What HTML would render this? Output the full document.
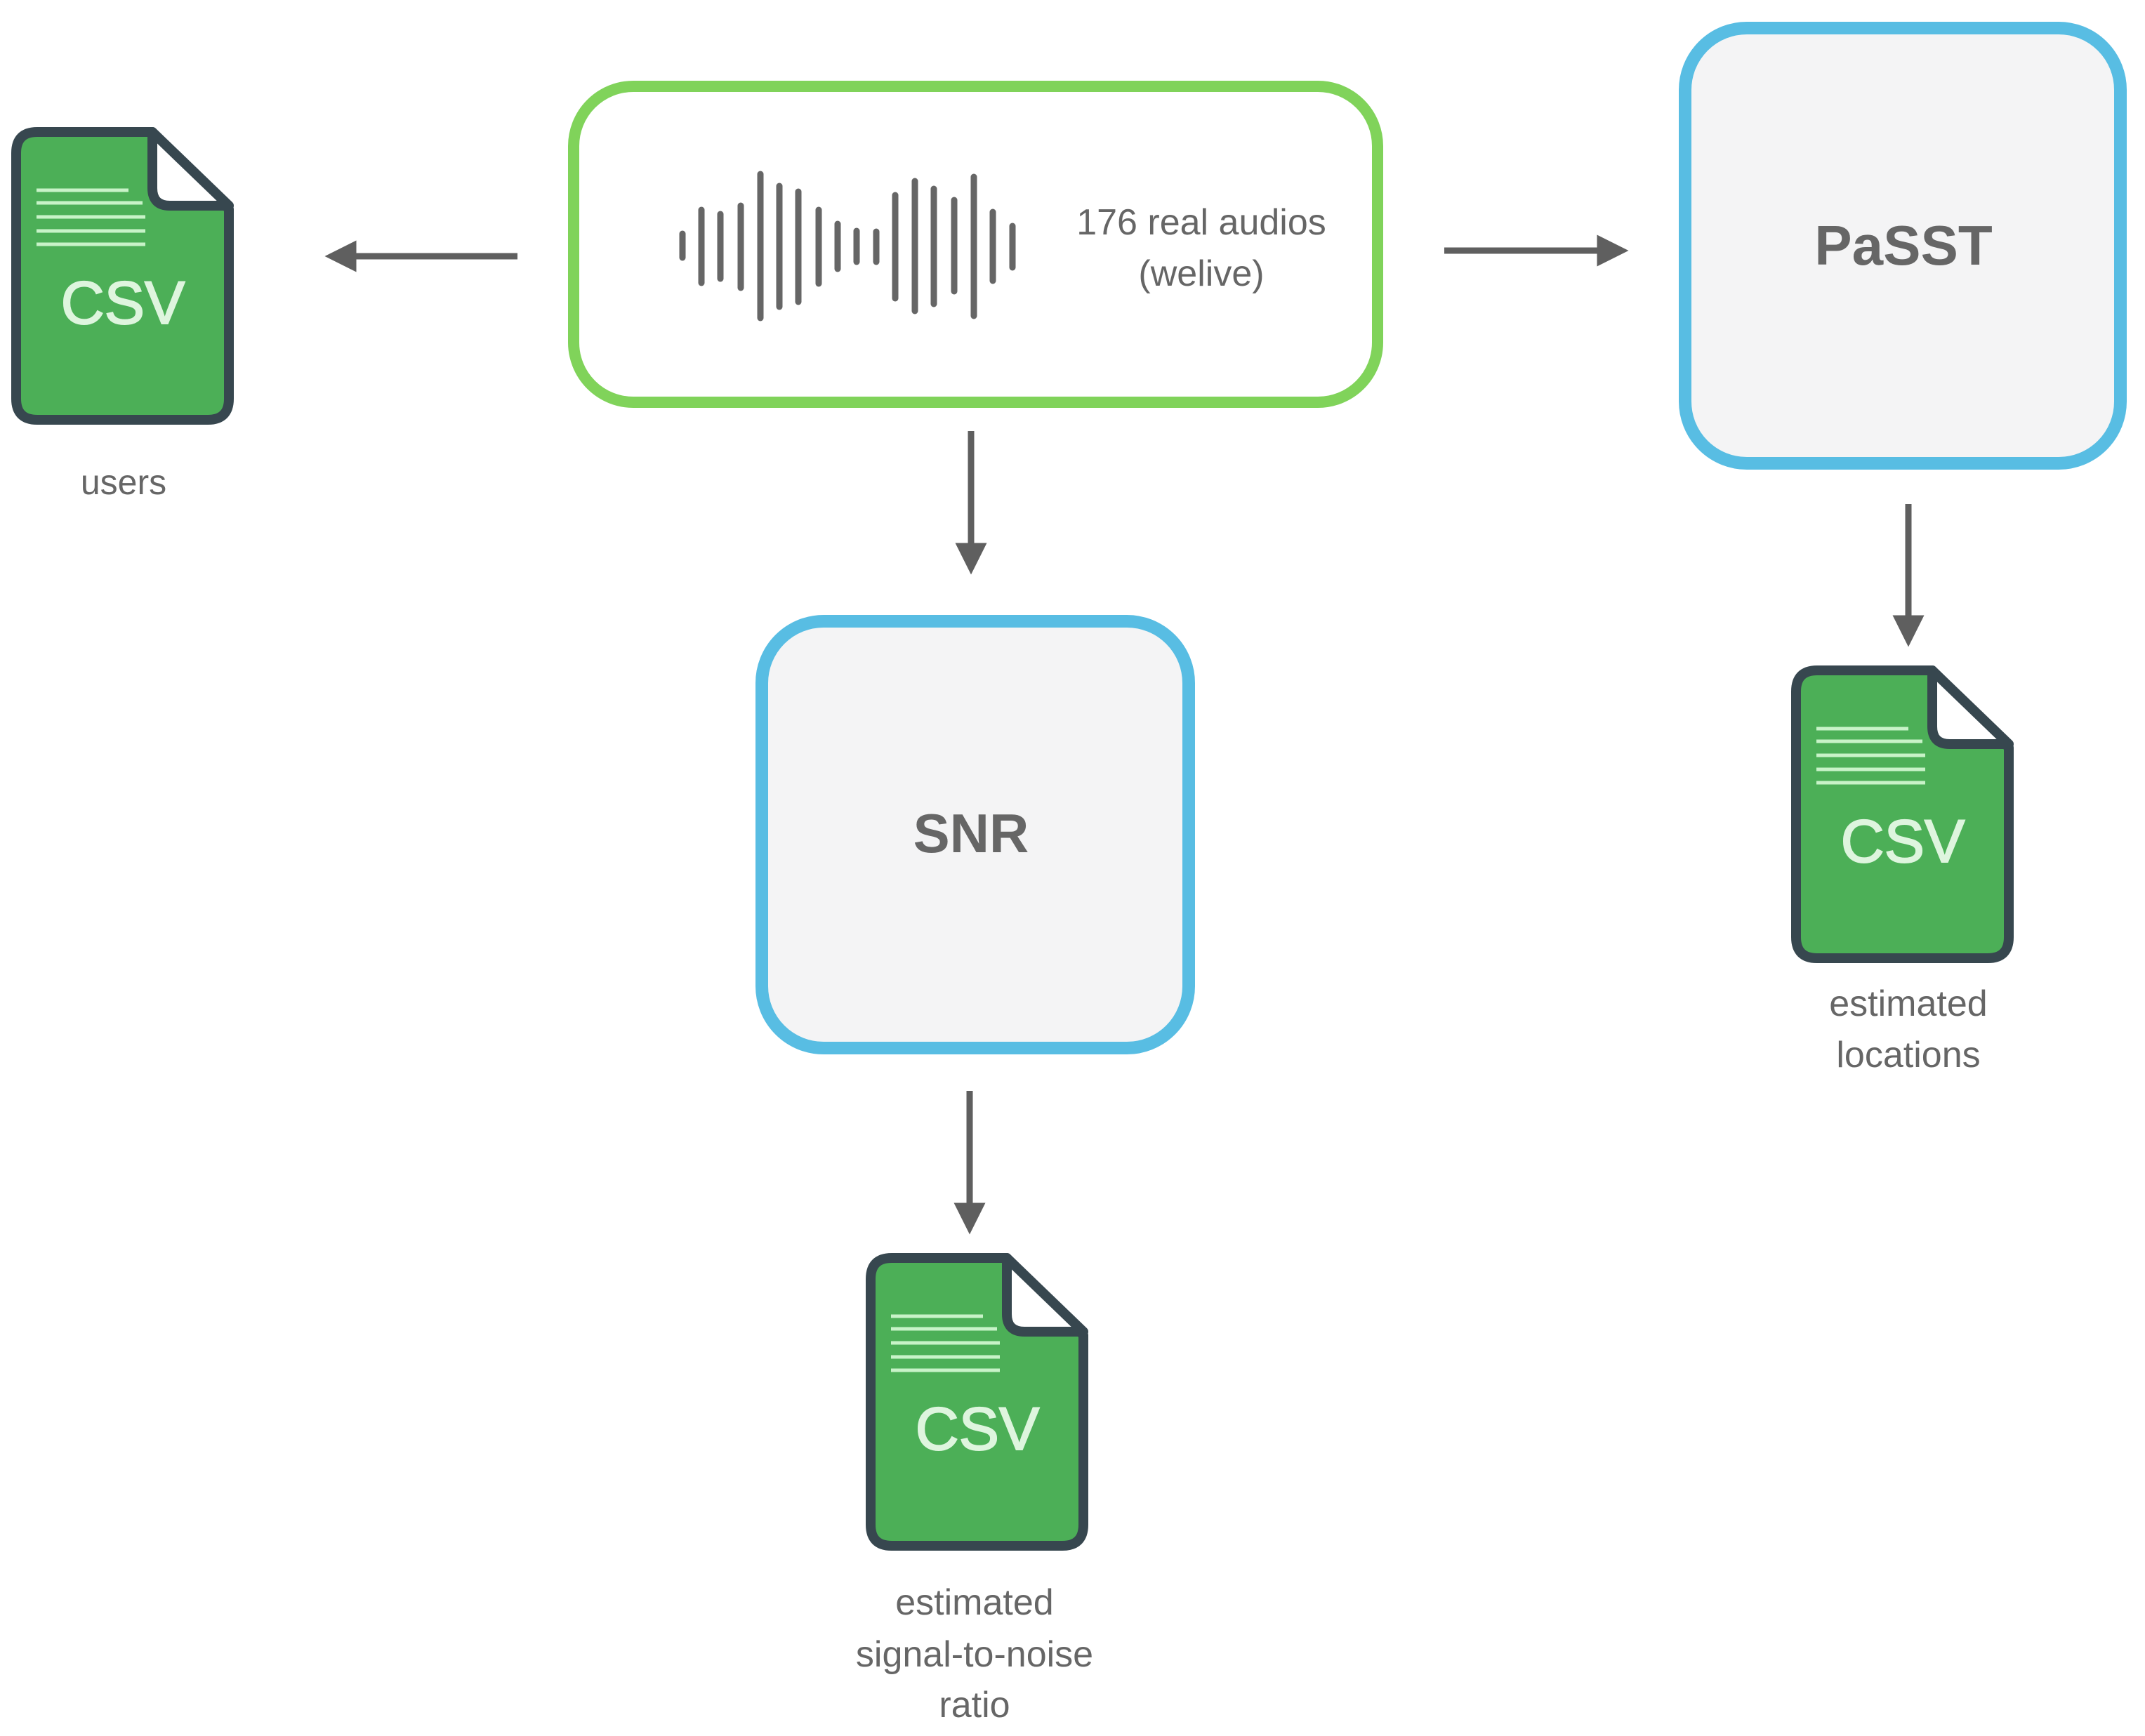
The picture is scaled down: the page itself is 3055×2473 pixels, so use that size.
<!DOCTYPE html>
<html><head><meta charset="utf-8"><style>
html,body{margin:0;padding:0;background:#fff;}
svg{display:block;}
text{font-family:"Liberation Sans",sans-serif;}
</style></head><body>
<svg width="3055" height="2473" viewBox="0 0 3055 2473" xmlns="http://www.w3.org/2000/svg">
<defs>
<marker id="ah" viewBox="0 0 10 10" refX="5" refY="5" markerWidth="5" markerHeight="5" orient="auto" markerUnits="strokeWidth">
<path d="M0,0 L10,5 L0,10 Z" fill="#5f5f5f"/>
</marker>
</defs>

<rect x="817" y="123" width="1145" height="450" rx="85" fill="#fff" stroke="#80d35a" stroke-width="16"/>
<g stroke="#666" stroke-width="9" stroke-linecap="round">
<line x1="972" y1="333" x2="972" y2="367"/>
<line x1="999" y1="299" x2="999" y2="403"/>
<line x1="1026" y1="305" x2="1026" y2="397"/>
<line x1="1055" y1="293" x2="1055" y2="410"/>
<line x1="1083" y1="248" x2="1083" y2="453"/>
<line x1="1110" y1="265" x2="1110" y2="437"/>
<line x1="1137" y1="273" x2="1137" y2="430"/>
<line x1="1166" y1="299" x2="1166" y2="404"/>
<line x1="1193" y1="319" x2="1193" y2="383"/>
<line x1="1220" y1="329" x2="1220" y2="373"/>
<line x1="1248" y1="330" x2="1248" y2="373"/>
<line x1="1275" y1="278" x2="1275" y2="425"/>
<line x1="1303" y1="258" x2="1303" y2="443"/>
<line x1="1330" y1="269" x2="1330" y2="433"/>
<line x1="1359" y1="285" x2="1359" y2="415"/>
<line x1="1387" y1="252" x2="1387" y2="450"/>
<line x1="1414" y1="302" x2="1414" y2="400"/>
<line x1="1442" y1="322" x2="1442" y2="381"/>
</g>
<text x="1711" y="334" font-size="52" fill="#666" text-anchor="middle">176 real audios</text>
<text x="1711" y="407" font-size="52" fill="#666" text-anchor="middle">(welive)</text>

<g stroke="#5f5f5f" stroke-width="9" fill="none">
<line x1="737" y1="365" x2="485" y2="365" marker-end="url(#ah)"/>
<line x1="2057" y1="357" x2="2297" y2="357" marker-end="url(#ah)"/>
<line x1="1383" y1="614" x2="1383" y2="796" marker-end="url(#ah)"/>
<line x1="2718" y1="718" x2="2718" y2="899" marker-end="url(#ah)"/>
<line x1="1381" y1="1554" x2="1381" y2="1736" marker-end="url(#ah)"/>
</g>

<rect x="2400" y="40" width="620" height="620" rx="88" fill="#f4f4f5" stroke="#58bde3" stroke-width="18"/>
<text x="2711" y="377" font-size="80" font-weight="bold" fill="#666" text-anchor="middle">PaSST</text>

<rect x="1085" y="885" width="608" height="608" rx="88" fill="#f4f4f5" stroke="#58bde3" stroke-width="18"/>
<text x="1383" y="1214" font-size="78" font-weight="bold" fill="#666" text-anchor="middle">SNR</text>

<g transform="translate(23,188)">
<path d="M30,0 H194 L303,110 V380 Q303,410 273,410 H30 Q0,410 0,380 V30 Q0,0 30,0 Z" fill="#4caf57" stroke="#37474f" stroke-width="14" stroke-linejoin="round"/>
<path d="M194,0 V80 Q194,105 219,105 H303 Z" fill="#fff" stroke="#37474f" stroke-width="14" stroke-linejoin="round"/>
<g stroke="#c8f3c8" stroke-width="5"><line x1="29" y1="83" x2="160" y2="83"/><line x1="29" y1="101" x2="180" y2="101"/><line x1="29" y1="121" x2="184" y2="121"/><line x1="29" y1="141" x2="184" y2="141"/><line x1="29" y1="160" x2="184" y2="160"/></g>
<text x="152" y="273" font-size="86" fill="#def5de" stroke="#def5de" stroke-width="2" text-anchor="middle">CSV</text>
</g>
<text x="176" y="704" font-size="50" fill="#666" text-anchor="middle">users</text>

<g transform="translate(2558,955)">
<path d="M30,0 H194 L303,110 V380 Q303,410 273,410 H30 Q0,410 0,380 V30 Q0,0 30,0 Z" fill="#4caf57" stroke="#37474f" stroke-width="14" stroke-linejoin="round"/>
<path d="M194,0 V80 Q194,105 219,105 H303 Z" fill="#fff" stroke="#37474f" stroke-width="14" stroke-linejoin="round"/>
<g stroke="#c8f3c8" stroke-width="5"><line x1="29" y1="83" x2="160" y2="83"/><line x1="29" y1="101" x2="180" y2="101"/><line x1="29" y1="121" x2="184" y2="121"/><line x1="29" y1="141" x2="184" y2="141"/><line x1="29" y1="160" x2="184" y2="160"/></g>
<text x="152" y="273" font-size="86" fill="#def5de" stroke="#def5de" stroke-width="2" text-anchor="middle">CSV</text>
</g>
<text x="2718" y="1447" font-size="52" fill="#666" text-anchor="middle">estimated</text>
<text x="2718" y="1520" font-size="52" fill="#666" text-anchor="middle">locations</text>

<g transform="translate(1240,1792)">
<path d="M30,0 H194 L303,110 V380 Q303,410 273,410 H30 Q0,410 0,380 V30 Q0,0 30,0 Z" fill="#4caf57" stroke="#37474f" stroke-width="14" stroke-linejoin="round"/>
<path d="M194,0 V80 Q194,105 219,105 H303 Z" fill="#fff" stroke="#37474f" stroke-width="14" stroke-linejoin="round"/>
<g stroke="#c8f3c8" stroke-width="5"><line x1="29" y1="83" x2="160" y2="83"/><line x1="29" y1="101" x2="180" y2="101"/><line x1="29" y1="121" x2="184" y2="121"/><line x1="29" y1="141" x2="184" y2="141"/><line x1="29" y1="160" x2="184" y2="160"/></g>
<text x="152" y="273" font-size="86" fill="#def5de" stroke="#def5de" stroke-width="2" text-anchor="middle">CSV</text>
</g>
<text x="1388" y="2300" font-size="52" fill="#666" text-anchor="middle">estimated</text>
<text x="1388" y="2374" font-size="52" fill="#666" text-anchor="middle">signal-to-noise</text>
<text x="1388" y="2446" font-size="52" fill="#666" text-anchor="middle">ratio</text>
</svg>
</body></html>
